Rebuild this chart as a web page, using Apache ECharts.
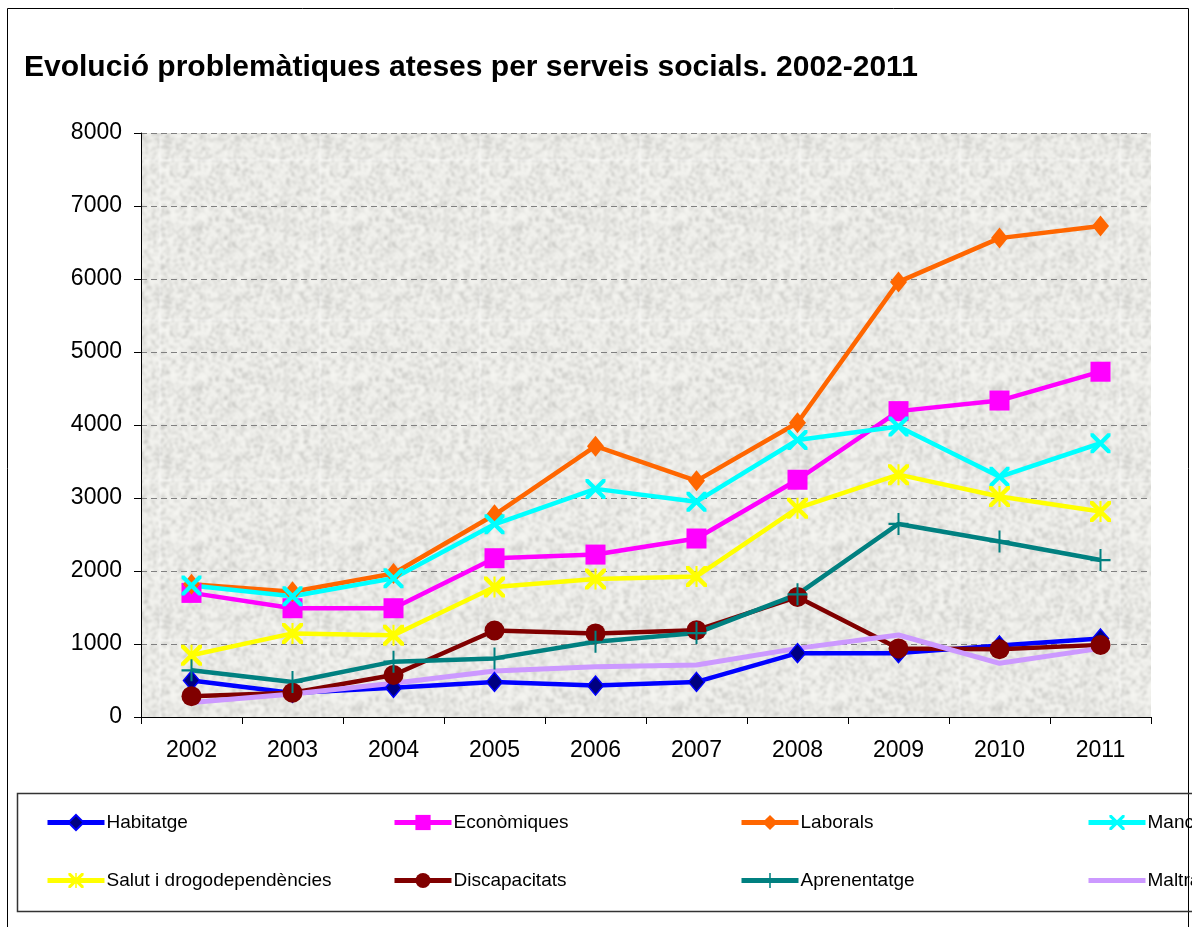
<!DOCTYPE html>
<html>
<head>
<meta charset="utf-8">
<script src="https://cdn.jsdelivr.net/npm/echarts@6/dist/echarts.min.js"></script>
<style>
html,body{margin:0;padding:0;background:#fff;}
#chart{width:1192px;height:927px;}
</style>
</head>
<body>
<div id="chart"></div>
<script>
// ---- data ----
const years = ['2002','2003','2004','2005','2006','2007','2008','2009','2010','2011'];
const habitatge      = [500, 330, 400, 480, 430, 480, 875, 875, 980, 1075];
const economiques    = [1700, 1490, 1490, 2175, 2225, 2445, 3250, 4190, 4335, 4730];
const laborals       = [1820, 1715, 1965, 2770, 3710, 3235, 4030, 5960, 6560, 6725];
const mancances      = [1800, 1655, 1900, 2640, 3125, 2950, 3795, 3980, 3290, 3750];
const salut          = [845, 1145, 1120, 1780, 1890, 1925, 2860, 3320, 3020, 2815];
const discapacitats  = [285, 333, 575, 1185, 1145, 1190, 1645, 940, 928, 988];
const aprenentatge   = [640, 480, 758, 803, 1030, 1150, 1680, 2645, 2405, 2150];
const maltractaments = [200, 315, 463, 630, 690, 712, 940, 1123, 735, 940];
const seriesNames = ['Habitatge','Econòmiques','Laborals','Mancances','Salut i drogodependències','Discapacitats','Aprenentatge','Maltractaments'];
const yTicks = [0,1000,2000,3000,4000,5000,6000,7000,8000];

// ---- texture for plot background (deterministic) ----
function hash(x, y) {
  let n = Math.imul(x, 374761393) + Math.imul(y, 668265263);
  n = Math.imul(n ^ (n >>> 13), 1274126177);
  return ((n ^ (n >>> 16)) >>> 0) / 4294967295;
}
const S = 80, T = 160;
const raw = document.createElement('canvas');
raw.width = S; raw.height = S;
const rc = raw.getContext('2d');
const img = rc.createImageData(S, S);
for (let y = 0; y < S; y++) {
  for (let x = 0; x < S; x++) {
    const r = hash(x, y);
    const g = 246 - Math.pow(r, 3) * 55;
    const i = (y * S + x) * 4;
    img.data[i] = g; img.data[i+1] = g; img.data[i+2] = g - 4; img.data[i+3] = 255;
  }
}
rc.putImageData(img, 0, 0);
const tex = document.createElement('canvas');
tex.width = T; tex.height = T;
const tc = tex.getContext('2d');
tc.imageSmoothingEnabled = true;
tc.filter = 'blur(0.8px)';
for (let dx = -1; dx <= 1; dx++) for (let dy = -1; dy <= 1; dy++) tc.drawImage(raw, dx * T, dy * T, T, T);

// ---- symbols ----
const symX = 'path://M0,0 L3,0 L10,7 L17,0 L20,0 L20,3 L13,10 L20,17 L20,20 L17,20 L10,13 L3,20 L0,20 L0,17 L7,10 L0,3 Z';
const symStar = 'path://M0,0 L3,0 L10,7 L17,0 L20,0 L20,3 L13,10 L20,17 L20,20 L17,20 L10,13 L3,20 L0,20 L0,17 L7,10 L0,3 Z M9,0 L11,0 L11,20 L9,20 Z';
const symPlus = 'path://M9,0 L11,0 L11,9 L20,9 L20,11 L11,11 L11,20 L9,20 L9,11 L0,11 L0,9 L9,9 Z';

function mk(name, data, color, symbol, size, fill, width) {
  return {
    name: name, type: 'line', data: data,
    symbol: symbol, symbolSize: size,
    showSymbol: symbol !== 'none',
    lineStyle: { color: color, width: width || 4.5 },
    itemStyle: { color: fill || color, borderColor: color, borderWidth: fill ? 1.5 : 0 },
    emphasis: { disabled: true },
    animation: false
  };
}

const series = [
  mk(seriesNames[0], habitatge, '#0000FF', 'diamond', [16, 19], '#000080'),
  mk(seriesNames[1], economiques, '#FF00FF', 'rect', [20, 20]),
  mk(seriesNames[2], laborals, '#FF6600', 'diamond', [17, 21]),
  mk(seriesNames[3], mancances, '#00FFFF', symX, [20, 20]),
  mk(seriesNames[4], salut, '#FFFF00', symStar, [21, 21]),
  mk(seriesNames[5], discapacitats, '#800000', 'circle', [20, 20]),
  mk(seriesNames[6], aprenentatge, '#008080', symPlus, [20, 22]),
  mk(seriesNames[7], maltractaments, '#CC99FF', 'none', 0, null, 5)
];

const colX = [45, 392, 739, 1086];
const rowY = [813, 871];
const legends = seriesNames.map(function (n, i) {
  return {
    data: [n],
    left: colX[i % 4], top: rowY[Math.floor(i / 4)],
    padding: 0, itemWidth: 57, itemHeight: 19, itemGap: 0,
    lineStyle: { width: 5 },
    itemStyle: i === 7 ? { opacity: 0 } : {},
    textStyle: { fontFamily: 'Liberation Sans', fontSize: 19, color: '#000', padding: [0, 0, 0, -3] },
    selectedMode: false
  };
});

const chart = echarts.init(document.getElementById('chart'), null, { renderer: 'canvas' });
chart.setOption({
  backgroundColor: '#fff',
  animation: false,
  title: {
    text: 'Evolució problemàtiques ateses per serveis socials. 2002-2011',
    left: 24, top: 53, padding: 0,
    textStyle: { fontFamily: 'Liberation Sans', fontSize: 30, fontWeight: 'bold', color: '#000', lineHeight: 30 }
  },
  legend: legends,
  graphic: [
    { type: 'rect', z: -1, shape: { x: 7.5, y: 8.5, width: 1181, height: 1000 }, style: { fill: 'none', stroke: '#000', lineWidth: 1 } },
    { type: 'rect', z: -1, shape: { x: 17.5, y: 793.5, width: 1200, height: 118 }, style: { fill: 'none', stroke: '#333', lineWidth: 1.5 } }
  ],
  grid: {
    left: 141, right: 41, top: 133, bottom: 210,
    show: true, borderWidth: 0,
    backgroundColor: { image: tex, repeat: 'repeat' }
  },
  xAxis: {
    type: 'category', data: years, boundaryGap: true,
    axisLine: { lineStyle: { color: '#000', width: 1 } },
    axisTick: { show: true, length: 7, lineStyle: { color: '#000' } },
    axisLabel: { fontFamily: 'Liberation Sans', fontSize: 23, color: '#000', margin: 22 },
    splitLine: { show: false }
  },
  yAxis: {
    type: 'value', min: yTicks[0], max: yTicks[yTicks.length - 1], interval: 1000,
    axisLine: { show: true, lineStyle: { color: '#000', width: 1 } },
    axisTick: { show: true, length: 7, lineStyle: { color: '#000' } },
    axisLabel: { fontFamily: 'Liberation Sans', fontSize: 23, color: '#000', margin: 19,
      formatter: function (v) { return String(v); } },
    splitLine: { show: true, lineStyle: { color: '#808080', type: [6, 4], width: 1 } }
  },
  series: series
});
</script>
</body>
</html>
